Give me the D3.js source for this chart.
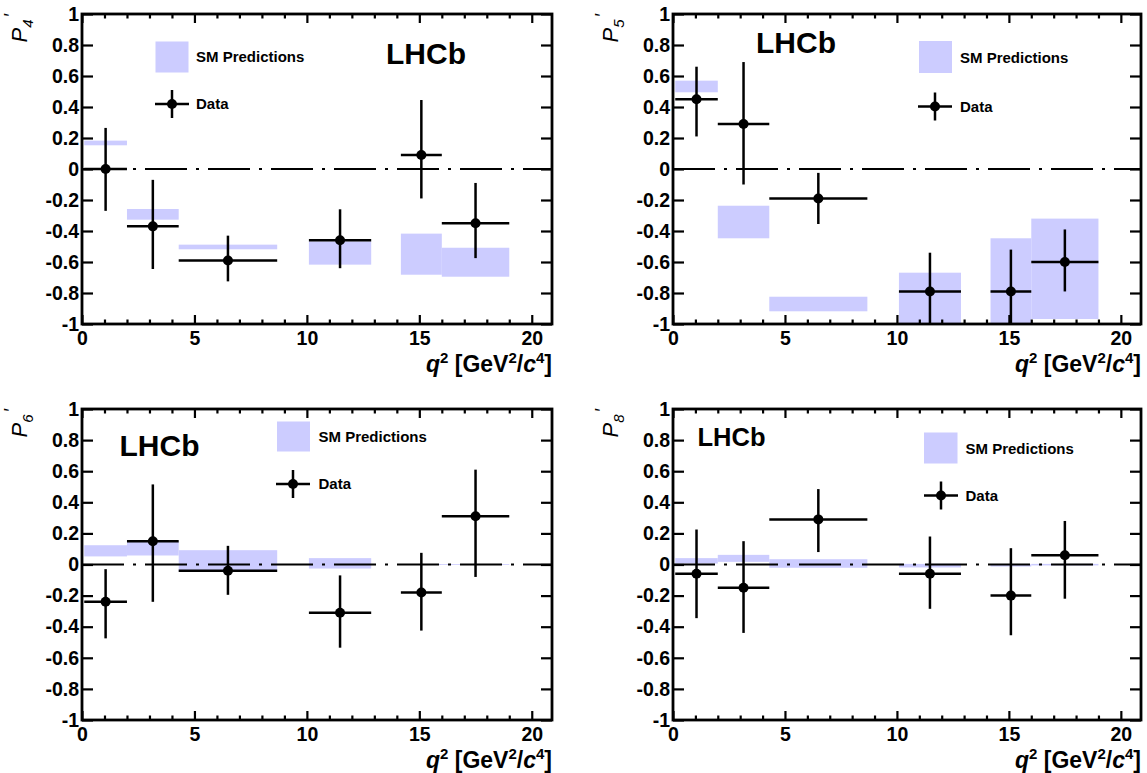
<!DOCTYPE html>
<html>
<head>
<meta charset="utf-8">
<script src="https://cdn.jsdelivr.net/npm/d3@7"></script>
<style>
  html, body { margin: 0; padding: 0; background: #fff; }
  svg { display: block; font-family: "Liberation Sans", Arial, Helvetica, sans-serif; }
</style>
</head>
<body>
<svg id="chart" width="1147" height="773"></svg>
<script>
// ---------------- DATA ----------------
const binLo = [0.1, 2.0, 4.3, 10.09, 14.18, 16.0];
const binHi = [2.0, 4.3, 8.68, 12.86, 16.0, 19.0];
const binCenter = [1.05, 3.15, 6.49, 11.475, 15.09, 17.5];

const observables = ["4", "5", "6", "8"];

// P4'
const p4Value = [0.00, -0.37, -0.59, -0.46, 0.09, -0.35];
const p4ErrUp = [0.265, 0.30, 0.16, 0.20, 0.355, 0.26];
const p4ErrDn = [0.27, 0.275, 0.135, 0.18, 0.28, 0.225];
const p4SmLo  = [0.153, -0.327, -0.518, -0.617, -0.682, -0.695];
const p4SmHi  = [0.183, -0.258, -0.488, -0.467, -0.417, -0.508];

// P5'
const p5Value = [0.45, 0.29, -0.19, -0.79, -0.79, -0.60];
const p5ErrUp = [0.21, 0.40, 0.165, 0.25, 0.27, 0.21];
const p5ErrDn = [0.24, 0.39, 0.165, 0.27, 0.27, 0.19];
const p5SmLo  = [0.495, -0.447, -0.918, -1.05, -1.05, -0.968];
const p5SmHi  = [0.570, -0.237, -0.824, -0.669, -0.447, -0.320];

// P6'
const p6Value = [-0.24, 0.15, -0.04, -0.31, -0.18, 0.31];
const p6ErrUp = [0.21, 0.365, 0.16, 0.24, 0.255, 0.30];
const p6ErrDn = [0.235, 0.39, 0.155, 0.225, 0.245, 0.39];
const p6SmLo  = [0.052, 0.058, -0.045, -0.026, -0.003, -0.002];
const p6SmHi  = [0.124, 0.150, 0.092, 0.041, 0.003, 0.002];

// P8'
const p8Value = [-0.06, -0.15, 0.29, -0.06, -0.20, 0.06];
const p8ErrUp = [0.285, 0.30, 0.195, 0.24, 0.305, 0.22];
const p8ErrDn = [0.285, 0.29, 0.21, 0.225, 0.255, 0.28];
const p8SmLo  = [0.006, 0.017, -0.021, -0.019, -0.013, -0.006];
const p8SmHi  = [0.041, 0.062, 0.034, 0.004, 0.000, 0.004];

const yTicks = [-1, -0.8, -0.6, -0.4, -0.2, 0, 0.2, 0.4, 0.6, 0.8, 1];
const yTickLabels = ["-1", "-0.8", "-0.6", "-0.4", "-0.2", "0", "0.2", "0.4", "0.6", "0.8", "1"];
const xTicks = [0, 5, 10, 15, 20];
const xTickLabels = ["0", "5", "10", "15", "20"];
const xMinorTicks = d3.range(0, 21, 1);
const xDomain = [0, 20.9];
const yDomain = [-1, 1];
const legendLabels = ["SM Predictions", "Data"];
const experiment = "LHCb";

// ---------------- LAYOUT ----------------
const panels = [
  { obs: "4", val: p4Value, up: p4ErrUp, dn: p4ErrDn, lo: p4SmLo, hi: p4SmHi,
    L: 82, R: 552, T: 14, B: 324,
    lhcb: { x: 386, y: 63.5, size: 30 },
    smBox: { x: 155.5, y: 41.5, w: 33, h: 31 }, smText: { x: 196, y: 57 },
    dataMk: { x: 172, y: 104 }, dataText: { x: 196, y: 104 } },
  { obs: "5", val: p5Value, up: p5ErrUp, dn: p5ErrDn, lo: p5SmLo, hi: p5SmHi,
    L: 673, R: 1141, T: 14, B: 324,
    lhcb: { x: 756, y: 52.5, size: 30 },
    smBox: { x: 919, y: 41, w: 33, h: 32 }, smText: { x: 960, y: 58 },
    dataMk: { x: 935, y: 106.5 }, dataText: { x: 960, y: 106.5 } },
  { obs: "6", val: p6Value, up: p6ErrUp, dn: p6ErrDn, lo: p6SmLo, hi: p6SmHi,
    L: 82, R: 552, T: 409, B: 720,
    lhcb: { x: 119.5, y: 456, size: 30 },
    smBox: { x: 277, y: 421.5, w: 33, h: 30 }, smText: { x: 318.5, y: 436.5 },
    dataMk: { x: 293, y: 484 }, dataText: { x: 318.5, y: 484 } },
  { obs: "8", val: p8Value, up: p8ErrUp, dn: p8ErrDn, lo: p8SmLo, hi: p8SmHi,
    L: 673, R: 1141, T: 409, B: 720,
    lhcb: { x: 697.5, y: 446, size: 25.5 },
    smBox: { x: 924, y: 432.5, w: 33.5, h: 31 }, smText: { x: 965.5, y: 449 },
    dataMk: { x: 941, y: 495.5 }, dataText: { x: 965.5, y: 495.5 } }
];

const bandColor = "#ccccff";
const svg = d3.select("#chart");
const defs = svg.append("defs");

panels.forEach((p, pi) => {
  const x = d3.scaleLinear().domain(xDomain).range([p.L, p.R]);
  const y = d3.scaleLinear().domain(yDomain).range([p.B, p.T]);
  const g = svg.append("g");

  defs.append("clipPath").attr("id", "clip" + pi)
    .append("rect").attr("x", p.L).attr("y", p.T).attr("width", p.R - p.L).attr("height", p.B - p.T);

  const plot = g.append("g").attr("clip-path", `url(#clip${pi})`);

  const rows = binLo.map((b, i) => ({
    lo: binLo[i], hi: binHi[i], c: binCenter[i],
    v: p.val[i], up: p.up[i], dn: p.dn[i], sl: p.lo[i], sh: p.hi[i]
  }));

  // SM bands
  plot.selectAll("rect.band").data(rows).join("rect")
    .attr("class", "band")
    .attr("x", d => x(d.lo))
    .attr("width", d => x(d.hi) - x(d.lo))
    .attr("y", d => y(d.sh))
    .attr("height", d => Math.max(0.8, y(d.sl) - y(d.sh)))
    .attr("fill", bandColor);

  // zero line
  plot.append("line")
    .attr("x1", x(xDomain[0])).attr("x2", x(xDomain[1]))
    .attr("y1", y(0)).attr("y2", y(0))
    .attr("stroke", "#000").attr("stroke-width", 2.2)
    .attr("stroke-dasharray", "42 9 3 9");

  // data
  const pts = plot.selectAll("g.pt").data(rows).join("g").attr("class", "pt");
  pts.append("line")
    .attr("x1", d => x(d.lo)).attr("x2", d => x(d.hi))
    .attr("y1", d => y(d.v)).attr("y2", d => y(d.v))
    .attr("stroke", "#000").attr("stroke-width", 2.5);
  pts.append("line")
    .attr("x1", d => x(d.c)).attr("x2", d => x(d.c))
    .attr("y1", d => y(d.v + d.up)).attr("y2", d => y(d.v - d.dn))
    .attr("stroke", "#000").attr("stroke-width", 2.5);
  pts.append("circle")
    .attr("cx", d => x(d.c)).attr("cy", d => y(d.v)).attr("r", 5)
    .attr("fill", "#000");

  // axes
  const styleAxis = sel => {
    sel.select(".domain").remove();
    sel.selectAll(".tick line").attr("stroke", "#000").attr("stroke-width", 2.2);
    sel.selectAll(".tick text").attr("fill", "#000")
      .style("font-size", "19.5px").style("font-weight", "bold");
  };
  g.append("g").attr("transform", `translate(${p.L},0)`)
    .call(d3.axisLeft(y).tickValues(yTicks).tickSize(-11).tickPadding(3)
      .tickFormat((d, i) => yTickLabels[i]))
    .call(styleAxis);
  g.append("g").attr("transform", `translate(${p.R},0)`)
    .call(d3.axisRight(y).tickValues(yTicks).tickSize(-11).tickFormat(""))
    .call(styleAxis);
  g.append("g").attr("transform", `translate(0,${p.B})`)
    .call(d3.axisBottom(x).tickValues(xTicks).tickSize(-9).tickPadding(7)
      .tickFormat((d, i) => xTickLabels[i]))
    .call(styleAxis);
  g.append("g").attr("transform", `translate(0,${p.B})`)
    .call(d3.axisBottom(x).tickValues(xMinorTicks.filter(v => !xTicks.includes(v))).tickSize(-4.5).tickFormat(""))
    .call(styleAxis);
  g.append("g").attr("transform", `translate(0,${p.T})`)
    .call(d3.axisTop(x).tickValues(xTicks).tickSize(-9).tickFormat(""))
    .call(styleAxis);
  g.append("g").attr("transform", `translate(0,${p.T})`)
    .call(d3.axisTop(x).tickValues(xMinorTicks.filter(v => !xTicks.includes(v))).tickSize(-4.5).tickFormat(""))
    .call(styleAxis);

  // frame
  g.append("rect").attr("x", p.L).attr("y", p.T).attr("width", p.R - p.L).attr("height", p.B - p.T)
    .attr("fill", "none").attr("stroke", "#000").attr("stroke-width", 2.8);

  // x title
  const xt = g.append("text").attr("x", p.R).attr("y", p.B + 48)
    .attr("text-anchor", "end").style("font-size", "23px").style("font-weight", "bold");
  xt.append("tspan").style("font-style", "italic").text("q");
  xt.append("tspan").attr("dy", -9).style("font-size", "15px").text("2");
  xt.append("tspan").attr("dy", 9).text(" [GeV");
  xt.append("tspan").attr("dy", -9).style("font-size", "15px").text("2");
  xt.append("tspan").attr("dy", 9).text("/");
  xt.append("tspan").style("font-style", "italic").text("c");
  xt.append("tspan").attr("dy", -9).style("font-size", "15px").text("4");
  xt.append("tspan").attr("dy", 9).text("]");

  // y title
  const yt = g.append("text")
    .attr("transform", `translate(${p.L - 55},${p.T - 1}) rotate(-90)`)
    .attr("text-anchor", "end").style("font-size", "22px").style("font-style", "italic");
  yt.append("tspan").text("P");
  yt.append("tspan").attr("dy", 6).style("font-size", "15px").style("font-style", "italic").text(p.obs);
  yt.append("tspan").attr("dy", -16).attr("dx", 3).style("font-size", "18px").style("font-style", "normal").text("′");

  // LHCb label
  g.append("text").attr("x", p.lhcb.x).attr("y", p.lhcb.y)
    .style("font-size", p.lhcb.size + "px").style("font-weight", "bold").text(experiment);

  // legend
  g.append("rect").attr("x", p.smBox.x).attr("y", p.smBox.y)
    .attr("width", p.smBox.w).attr("height", p.smBox.h).attr("fill", bandColor);
  g.append("text").attr("x", p.smText.x).attr("y", p.smText.y).attr("dy", "0.35em")
    .style("font-size", "15px").style("font-weight", "bold").text(legendLabels[0]);
  g.append("line").attr("x1", p.dataMk.x - 17).attr("x2", p.dataMk.x + 17)
    .attr("y1", p.dataMk.y).attr("y2", p.dataMk.y).attr("stroke", "#000").attr("stroke-width", 2.5);
  g.append("line").attr("x1", p.dataMk.x).attr("x2", p.dataMk.x)
    .attr("y1", p.dataMk.y - 14).attr("y2", p.dataMk.y + 14).attr("stroke", "#000").attr("stroke-width", 2.5);
  g.append("circle").attr("cx", p.dataMk.x).attr("cy", p.dataMk.y).attr("r", 5).attr("fill", "#000");
  g.append("text").attr("x", p.dataText.x).attr("y", p.dataText.y).attr("dy", "0.35em")
    .style("font-size", "15px").style("font-weight", "bold").text(legendLabels[1]);
});
</script>
</body>
</html>
